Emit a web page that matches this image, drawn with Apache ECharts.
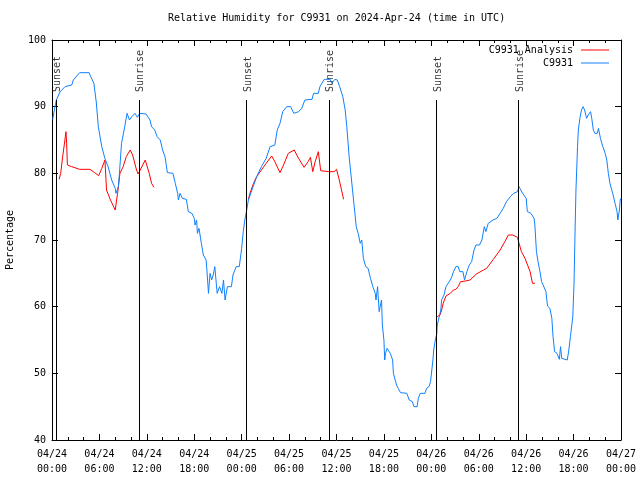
<!DOCTYPE html>
<html><head><meta charset="utf-8">
<script src="https://cdn.jsdelivr.net/npm/echarts@6/dist/echarts.min.js"></script>
<style>html,body{margin:0;padding:0;background:#fff}#c{width:640px;height:480px}</style>
</head><body><div id="c"></div>
<script>
const FONT = 'DejaVu Sans Mono';
const titleText = 'Relative Humidity for C9931 on 2024-Apr-24 (time in UTC)';
const xTickDates = ['04/24','04/24','04/24','04/24','04/25','04/25','04/25','04/25','04/26','04/26','04/26','04/26','04/27'];
const xTickTimes = ['00:00','06:00','12:00','18:00','00:00','06:00','12:00','18:00','00:00','06:00','12:00','18:00','00:00'];

// Observations (hours since 2024-04-24 00:00 UTC, %)
const obsHours = [0.09,0.3,0.55,1.0,1.65,2.5,2.7,3.5,4.7,4.9,5.3,5.6,5.86,6.3,6.7,7.1,7.55,8.0,8.1,8.4,8.5,8.8,9.2,9.5,9.8,10.1,10.5,10.8,11.1,11.9,12.4,12.6,13.0,13.3,13.7,14.0,14.3,14.6,15.3,15.6,15.9,16.0,16.2,16.5,17.0,17.25,17.7,18.0,18.1,18.3,18.4,18.6,18.9,19.15,19.5,19.6,19.8,20.0,20.2,20.4,20.6,20.9,21.2,21.5,21.7,21.9,22.2,22.7,22.9,23.3,23.7,24.0,24.2,24.4,24.6,24.85,25.3,25.9,26.5,27.1,27.6,28.2,28.5,28.85,29.2,29.7,30.2,30.6,31.2,31.6,32.0,32.9,33.1,33.7,33.9,34.45,35.2,35.4,35.8,36.1,36.4,36.8,37.1,37.3,37.6,37.9,38.2,38.5,38.75,39.0,39.2,39.4,39.7,40.0,40.3,40.6,40.9,41.0,41.2,41.4,41.6,41.7,41.8,42.0,42.1,42.2,42.4,42.8,43.1,43.2,43.4,43.6,43.8,44.1,44.9,45.2,45.6,45.8,46.2,46.35,46.6,47.2,47.4,47.7,47.9,48.2,48.3,48.5,48.7,48.75,49.0,49.2,49.3,49.6,49.85,50.1,50.4,50.6,50.8,51.1,51.4,51.6,52.0,52.2,52.5,52.8,53.1,53.4,53.65,54.1,54.4,54.7,54.9,55.2,55.8,56.3,56.7,57.1,57.5,58.0,58.4,58.9,59.1,59.3,59.55,60.0,60.15,60.6,61.0,61.1,61.3,61.5,61.75,61.95,62.2,62.5,62.7,63.0,63.25,63.4,63.6,63.9,64.2,64.35,64.5,64.7,65.2,65.4,65.6,65.9,66.05,66.2,66.3,66.5,66.6,66.8,67.0,67.2,67.4,67.65,67.85,68.15,68.3,68.5,68.7,69.0,69.15,69.3,69.4,69.7,70.0,70.2,70.4,70.6,70.95,71.25,71.5,71.6,71.8,71.9,72.0];
const obsValues = [88.1,89.5,91,92.2,93,93.25,94,95.1,95.1,94.5,93.5,90.7,87,84,82.2,81,79,77.75,77,78,79.5,84.5,87,89,88,88.5,89,88.4,89,88.9,88,87,86.5,85.5,85,83.5,82.5,80.1,80,78.5,77,76,77,76.25,76.1,74.25,74,73.25,72.25,73,71,71.75,69.5,67.75,67,65.5,62,65,64,64.75,66,62,63,62,64,61,63,63,64.75,66,66,68.75,71.25,73,74.25,76,77.5,79.5,81,82.25,84,84.25,86.5,87.5,89.25,90,90,89,89.25,89.75,91,91.1,92,92,93,94.1,94.1,93.5,94.1,94,93,91.5,89.5,87,82.5,79,75.5,72,71,69.5,70,67.25,66,65.75,64.25,63,62,61,63,59.25,60.5,61,57.25,55,52,53,53.75,53,52,50,49.75,48.25,47.75,47.1,47,46,45.75,45,45,46.25,47,47,47.75,48,48.75,52,53.5,55,56,57.25,57.25,59.5,61,61.75,63,63.25,64,64.5,65.25,66,66,65.25,65.25,64,65.25,66.25,66.75,68.5,69.25,69.25,70,72,71.25,72.5,73,73.25,74,74.75,75.75,76.5,77,77.25,78,78,77,76.25,74.25,74,73.25,72.25,68.25,66.75,65.25,63.75,63.1,62.25,60.1,59.75,58.25,55.5,53.25,53,52.1,54,52.25,52,52,53.5,55.5,58.5,63.25,72,77.5,84,86.5,88.25,89.5,90,89.5,88.25,88.75,89.25,88.25,86.5,86,86,86.75,87,85.25,84,83,82,80,78.5,77,75.5,74.25,73,74.5,76,76.25];

// Analysis, three runs
const ana1Hours = [0.9,1.1,1.35,1.55,1.77,1.85,1.95,2.5,3.5,4.8,5.4,5.9,6.3,6.7,6.9,7.4,8.0,8.3,8.6,9.0,9.4,9.9,10.2,10.7,10.9,11.1,11.8,12.0,12.3,12.6,12.9];
const ana1Values = [79.1,80,82.5,84.25,86.25,84.5,81.25,81,80.6,80.6,80.1,79.65,80.75,82,77.5,76,74.5,77,80,81,82.5,83.5,82.75,80.5,79.9,80,82,81.75,80,78.5,77.9];
const ana2Hours = [24.85,25.05,25.5,25.9,26.5,27.1,27.8,28.2,28.85,29.3,29.9,30.65,31.2,31.9,32.4,32.7,33.0,33.3,33.7,34.0,35.0,35.7,36.0,36.35,36.9];
const ana2Values = [76.1,77,78.5,79.5,80.5,81.5,82.6,81.75,80.1,81.25,83,83.5,82.25,80.9,81.75,82.4,80.25,81.75,83.25,80.4,80.25,80.25,80.6,79,76.1];
const ana3Hours = [48.75,49.1,49.3,49.5,49.85,50.4,50.8,51.1,51.4,51.7,52.3,52.9,53.7,54.6,55.0,55.85,56.7,57.3,57.75,58.3,58.9,59.1,59.4,59.85,60.05,60.5,60.8,61.1];
const ana3Values = [58.5,58.75,59.5,60.5,61.6,62,62.5,62.6,63,63.75,63.85,64,64.9,65.5,65.75,67.1,68.5,69.75,70.75,70.75,70.4,69.5,68.25,67.25,67.25,65.25,63.5,63.5];

// Sun events
const eventHours = [0.54, 11.05, 24.6, 35.1, 48.65, 59.05];
const eventNames = ['Sunset','Sunrise','Sunset','Sunrise','Sunset','Sunrise'];
const eventLineTop = 91;
const eventLabelBase = 92.2;

const zip = (a, b) => a.map((h, i) => [h, b[i]]);
const RED = '#ff0000', BLUE = '#1080ff';
const txt = {fontFamily: FONT, fontSize: 10, color: '#000'};

const axisCommonX = {
  type: 'value', min: 0, max: 72, interval: 6,
  axisLine: {show: true, onZero: false, lineStyle: {color: '#000', width: 1}},
  axisTick: {show: true, inside: true, length: 6, lineStyle: {color: '#000'}},
  minorTick: {show: true, splitNumber: 3, length: 3, lineStyle: {color: '#000'}},
  splitLine: {show: false}, minorSplitLine: {show: false}
};
const axisCommonY = {
  type: 'value', min: 40, max: 100, interval: 10,
  axisLine: {show: true, onZero: false, lineStyle: {color: '#000', width: 1}},
  axisTick: {show: true, inside: true, length: 6, lineStyle: {color: '#000'}},
  splitLine: {show: false}
};

const chart = echarts.init(document.getElementById('c'), null, {renderer: 'canvas'});
const anaStyle = {type: 'line', name: 'C9931 Analysis', showSymbol: false, symbol: 'none',
  lineStyle: {color: RED, width: 1}, itemStyle: {color: RED}, animation: false, xAxisIndex: 0, yAxisIndex: 0};
const legendText = Object.assign({}, txt, {padding: [0, 3, 0, 0]});

chart.setOption({
  animation: false,
  backgroundColor: '#fff',
  title: {text: titleText, left: 168, top: 13, padding: 0,
    textStyle: {fontFamily: FONT, fontSize: 10, fontWeight: 'normal', color: '#000'}},
  grid: {left: 52, right: 19, top: 40, bottom: 40, containLabel: false, outerBoundsMode: 'none'},
  legend: [
    {data: [{name: 'C9931 Analysis', icon: 'rect'}], right: 31, top: 45, orient: 'vertical', align: 'right',
      itemWidth: 28, itemHeight: 1, padding: 0, textStyle: legendText, selectedMode: false},
    {data: [{name: 'C9931', icon: 'rect'}], right: 31, top: 58, orient: 'vertical', align: 'right',
      itemWidth: 28, itemHeight: 1, padding: 0, textStyle: legendText, selectedMode: false}
  ],
  xAxis: [
    Object.assign({}, axisCommonX, {position: 'bottom',
      axisLabel: Object.assign({}, txt, {margin: 7, lineHeight: 15, showMinLabel: true, showMaxLabel: true, hideOverlap: false,
        formatter: v => { const i = Math.round(v / 6); return xTickDates[i] + '\n' + xTickTimes[i]; }})}),
    Object.assign({}, axisCommonX, {position: 'top', axisLabel: {show: false}})
  ],
  yAxis: [
    Object.assign({}, axisCommonY, {position: 'left',
      axisLabel: Object.assign({}, txt, {margin: 6}),
      name: 'Percentage', nameLocation: 'middle', nameGap: 37, nameRotate: 90,
      nameTextStyle: txt}),
    Object.assign({}, axisCommonY, {position: 'right', axisLabel: {show: false}})
  ],
  series: [
    {
      type: 'scatter', name: 'events', symbolSize: 0, silent: true, animation: false,
      data: eventHours.map((h, i) => ({value: [h, eventLabelBase], name: eventNames[i]})),
      label: {show: true, formatter: '{b}', rotate: 90, position: [0, 0], offset: [0, 1.5],
        align: 'left', verticalAlign: 'middle', fontFamily: FONT, fontSize: 10, color: '#000'},
      markLine: {silent: true, symbol: ['none', 'none'], animation: false,
        lineStyle: {color: '#000', width: 1, type: 'solid'}, label: {show: false},
        data: eventHours.map(h => [{coord: [h, 40]}, {coord: [h, eventLineTop]}])}
    },
    Object.assign({}, anaStyle, {data: zip(ana1Hours, ana1Values)}),
    Object.assign({}, anaStyle, {data: zip(ana2Hours, ana2Values)}),
    Object.assign({}, anaStyle, {data: zip(ana3Hours, ana3Values)}),
    {type: 'line', name: 'C9931', showSymbol: false, symbol: 'none', animation: false,
      lineStyle: {color: BLUE, width: 1}, itemStyle: {color: BLUE},
      data: zip(obsHours, obsValues)}
  ]
});
</script>
</body></html>
